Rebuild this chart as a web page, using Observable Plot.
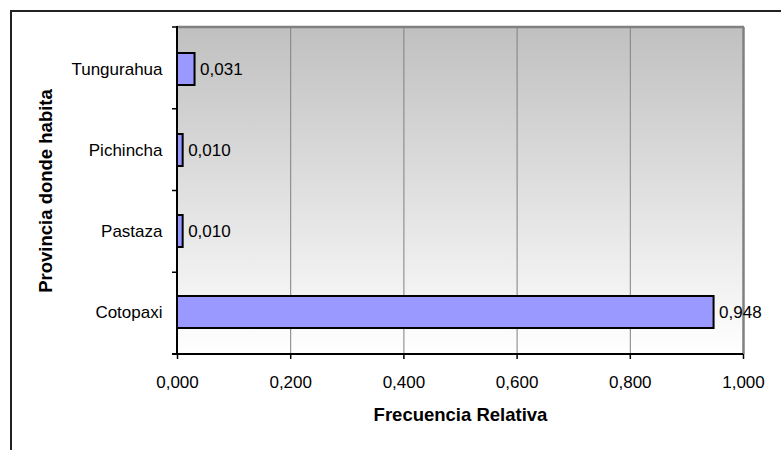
<!DOCTYPE html>
<html>
<head>
<meta charset="utf-8">
<script src="https://cdn.jsdelivr.net/npm/d3@7"></script>
<script src="https://cdn.jsdelivr.net/npm/@observablehq/plot@0.6"></script>
<style>
  html, body { margin: 0; padding: 0; background: #fff; }
  #wrap { position: relative; width: 781px; height: 450px; overflow: hidden; }
  #frame { position: absolute; left: 10px; top: 10px; width: 800px; height: 460px;
           border-top: 2px solid #222; border-left: 2px solid #222; pointer-events: none; }
  #chart { position: absolute; left: 0; top: 0; }
</style>
</head>
<body>
<div id="wrap"><div id="chart"></div><div id="frame"></div></div>
<script>
const provinces = ["Tungurahua", "Pichincha", "Pastaza", "Cotopaxi"];
const freqs = [0.031, 0.010, 0.010, 0.948];
const xTicks = [0, 0.2, 0.4, 0.6, 0.8, 1.0];
const gridTicks = [0.2, 0.4, 0.6, 0.8];
const xTitle = "Frecuencia Relativa";
const yTitle = "Provincia donde habita";

const data = provinces.map((p, i) => ({province: p, value: freqs[i]}));
const fmt = d => d.toFixed(3).replace(".", ",");
const font = "'Liberation Sans', Arial, Helvetica, sans-serif";

// gradient background of the plot area
function gradientBg(index, scales, values, dim) {
  const svgns = "http://www.w3.org/2000/svg";
  const g = document.createElementNS(svgns, "g");
  const defs = document.createElementNS(svgns, "defs");
  const lg = document.createElementNS(svgns, "linearGradient");
  lg.setAttribute("id", "bg-grad");
  lg.setAttribute("x1", "0"); lg.setAttribute("y1", "0");
  lg.setAttribute("x2", "0"); lg.setAttribute("y2", "1");
  [["0%", "#c0c0c0"], ["100%", "#ffffff"]].forEach(([o, c]) => {
    const s = document.createElementNS(svgns, "stop");
    s.setAttribute("offset", o); s.setAttribute("stop-color", c);
    lg.appendChild(s);
  });
  defs.appendChild(lg); g.appendChild(defs);
  const r = document.createElementNS(svgns, "rect");
  r.setAttribute("x", dim.marginLeft);
  r.setAttribute("y", dim.marginTop);
  r.setAttribute("width", dim.width - dim.marginLeft - dim.marginRight);
  r.setAttribute("height", dim.height - dim.marginTop - dim.marginBottom);
  r.setAttribute("fill", "url(#bg-grad)");
  g.appendChild(r);
  return g;
}

// category boundary ticks on the left axis (Excel style)
function boundaryTicks(index, scales, values, dim) {
  const svgns = "http://www.w3.org/2000/svg";
  const g = document.createElementNS(svgns, "g");
  const top = dim.marginTop, bottom = dim.height - dim.marginBottom;
  const n = provinces.length;
  const step = (bottom - top) / n;
  for (let i = 0; i <= n; i++) {
    const l = document.createElementNS(svgns, "line");
    const y = top + i * step;
    l.setAttribute("x1", dim.marginLeft - 5);
    l.setAttribute("x2", dim.marginLeft);
    l.setAttribute("y1", y); l.setAttribute("y2", y);
    l.setAttribute("stroke", "#000");
    l.setAttribute("stroke-width", 1.5);
    g.appendChild(l);
  }
  return g;
}

const chart = Plot.plot({
  width: 781,
  height: 450,
  marginLeft: 177,
  marginRight: 38,
  marginTop: 27,
  marginBottom: 96,
  style: {fontFamily: font, fontSize: "17px", color: "#000", background: "transparent"},
  x: {domain: [0, 1]},
  y: {domain: provinces, paddingInner: 0.6, paddingOuter: 0.3},
  marks: [
    gradientBg,
    Plot.ruleX(gridTicks, {stroke: "#808080", strokeWidth: 1}),
    Plot.ruleX([1], {stroke: "#808080", strokeWidth: 2.5}),
    Plot.axisX({ticks: xTicks, tickFormat: fmt, tickSize: 5, tickPadding: 16, fontSize: 17, stroke: "#000", strokeWidth: 1.5, label: null}),
    Plot.axisY({tickSize: 0, tickPadding: 15, fontSize: 17, label: null}),
    Plot.barX(data, {x: "value", y: "province", fill: "#9999ff", stroke: "#000", strokeWidth: 2}),
    Plot.text(data, {x: "value", y: "province", text: d => fmt(d.value), dx: 5, textAnchor: "start", fontSize: 17}),
    boundaryTicks,
    Plot.text([xTitle], {frameAnchor: "bottom", lineAnchor: "middle", dy: 61, text: d => d, fontWeight: "bold", fontSize: 18.5}),
    Plot.text([yTitle], {frameAnchor: "left", textAnchor: "middle", lineAnchor: "middle", dx: -131, rotate: -90, text: d => d, fontWeight: "bold", fontSize: 18.5})
  ]
});

// plot area frame: top edge gray, left & bottom black
const svg = d3.select(chart);
const L = 177, R = 781 - 38, T = 27, B = 450 - 96;
svg.append("line").attr("x1", L).attr("x2", R + 1).attr("y1", T).attr("y2", T)
   .attr("stroke", "#808080").attr("stroke-width", 2.5);
svg.append("line").attr("x1", L).attr("x2", L).attr("y1", T - 1).attr("y2", B)
   .attr("stroke", "#000").attr("stroke-width", 2);
svg.append("line").attr("x1", L - 5).attr("x2", R).attr("y1", B).attr("y2", B)
   .attr("stroke", "#000").attr("stroke-width", 2);

document.getElementById("chart").appendChild(chart);
</script>
</body>
</html>
